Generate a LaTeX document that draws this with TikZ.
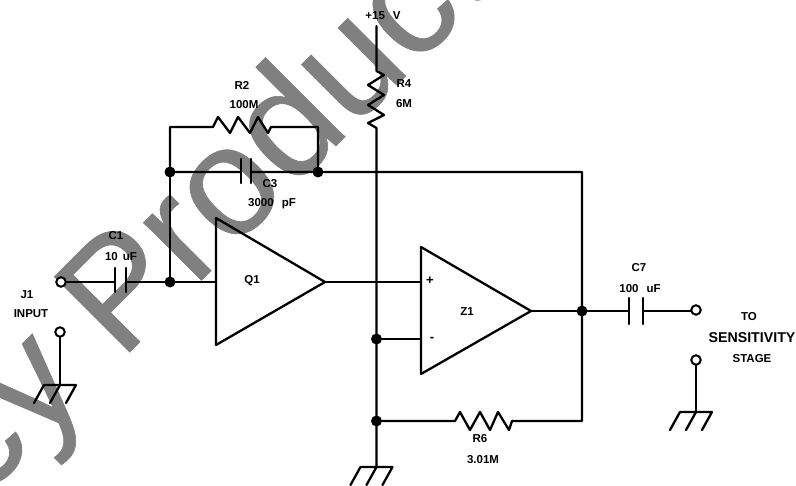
\documentclass[tikz,border=0pt]{standalone}
\usepackage{fontspec}
\setmainfont{Liberation Sans}
\newfontfamily\wmfont[FakeBold=0.4]{Liberation Sans}
\usetikzlibrary{calc}
\definecolor{wmgrey}{gray}{0.5}
\tikzset{
  x=1pt,y=-1pt,
  wire/.style={line width=2.3pt,line cap=round,line join=round},
  dotn/.style={circle,fill=black,inner sep=0pt,minimum size=11pt},
  term/.style={circle,draw,line width=2pt,fill=white,inner sep=0pt,minimum size=9.5pt},
  lab/.style={font=\fontsize{11.5}{11.5}\selectfont\bfseries,inner sep=0pt,text=black},
  labw/.style={font=\fontsize{14.2}{14.2}\selectfont\bfseries,inner sep=0pt,text=black},
  wm/.style={font=\wmfont\fontsize{155}{155}\selectfont,text=wmgrey,rotate=45,anchor=base west,inner sep=0pt}
}
\newcommand{\gnd}[1]{\draw[wire] ($(#1)+(-16,0)$) -- ($(#1)+(16,0)$)
  ($(#1)+(-16,0)$) -- ($(#1)+(-26,18)$)
  ($(#1)+(0,0)$) -- ($(#1)+(-10,18)$)
  ($(#1)+(16,0)$) -- ($(#1)+(6,18)$);}
\begin{document}
\begin{tikzpicture}
\useasboundingbox (0,0) rectangle (796,486);
\clip (0,0) rectangle (796,486);
\node[wm] (wmark) at (-263,745) {Legacy Product};
% coordinates
\coordinate (top) at (376.5,26);
\coordinate (cross) at (376.5,172);
\node[dotn] (n1) at (170,172) {};
\node[dotn] (n2) at (318,172) {};
\node[dotn] (n3) at (170,282) {};
\node[dotn] (n4) at (376.5,339) {};
\node[dotn] (n5) at (376.5,421) {};
\node[dotn] (n6) at (582,311) {};
\coordinate (tr) at (582,172);
\coordinate (br) at (582,421);
\coordinate (tl) at (170,127);
\coordinate (tm) at (318,127);
\coordinate (g3) at (376.5,467);
\coordinate (g1) at (60,385);
\coordinate (g2) at (696,412);
\coordinate (q1in) at (216,282);
\coordinate (q1out) at (325,282);
\coordinate (zp) at (421,282);
\coordinate (zm) at (421,339);
\coordinate (zo) at (531,311);
% wires
\draw[wire] (top) -- (376.5,71) -- (384,75) -- (368,85) -- (384,95) -- (368,105) -- (384,115) -- (368,123) -- (376.5,128) -- (cross) -- (n5.center) -- (g3);
\draw[wire] (n1) -- (tl) -- (213,127) -- (218,117) -- (230,133) -- (238,117) -- (250,133) -- (258,117) -- (268,133) -- (271,127) -- (tm) -- (n2);
\draw[wire] (n1) -- (241,172) (251,172) -- (n2) -- (tr) -- (br) -- (512,421) -- (509,430) -- (498,412) -- (490,430) -- (480,412) -- (470,430) -- (460,412) -- (455,421) -- (n5);
\draw[wire] (241,159) -- (241,183) (251,159) -- (251,183);
\draw[wire] (n1) -- (n3);
\draw[wire] (61,282) -- (115,282) (126,282) -- (n3) -- (q1in);
\draw[wire] (115,268) -- (115,292) (126,268) -- (126,292);
\draw[wire] (q1out) -- (zp);
\draw[wire] (n4) -- (zm);
\draw[wire] (zo) -- (n6) -- (629,311) (643,311) -- (696,311);
\draw[wire] (629,298) -- (629,324) (643,298) -- (643,324);
\draw[wire] (60,332) -- (g1);
\draw[wire] (696,360) -- (g2);
\node[term] (j1) at (61,282) {};
\node[term] (j2) at (60,332) {};
\node[term] (o1) at (696,310) {};
\node[term] (o2) at (696,360) {};
% op amps
\draw[wire] (216,218) -- (216,345) -- (325,282) -- cycle;
\draw[wire] (421,247) -- (421,374) -- (531,311) -- cycle;
\gnd{g1}
\gnd{g2}
\gnd{g3}
% labels
\node[lab] (lv) at (383,16) {+15\hspace{8pt}V};
\node[lab] (lr4) at (404,84) {R4};
\node[lab] (lr4v) at (404,104) {6M};
\node[lab] (lr2) at (242,85) {R2};
\node[lab] (lr2v) at (244,105) {100M};
\node[lab] (lc3) at (270,184) {C3};
\node[lab] (lc3v) at (272,204) {3000\hspace{8pt}pF};
\node[lab] (lc1) at (116,236) {C1};
\node[lab] (lc1v) at (121,257) {10\hspace{5pt}uF};
\node[lab] (lj1) at (27,295) {J1};
\node[lab] (lj1v) at (31,314) {INPUT};
\node[lab] (lq1) at (252,281) {Q1};
\node[lab] (lz1) at (467,312) {Z1};
\node[lab,font=\fontsize{13}{13}\selectfont\bfseries] (lp) at (430,281) {+};
\node[lab,font=\fontsize{13}{13}\selectfont\bfseries] (lm) at (432,339) {-};
\node[lab] (lc7) at (639,268) {C7};
\node[lab] (lc7v) at (640,289) {100\hspace{8pt}uF};
\node[lab] (lto) at (749,317) {TO};
\node[labw] (lse) at (752,338) {SENSITIVITY};
\node[lab] (lst) at (752,359) {STAGE};
\node[lab] (lr6) at (480,439) {R6};
\node[lab] (lr6v) at (483,460) {3.01M};
\end{tikzpicture}
\end{document}
